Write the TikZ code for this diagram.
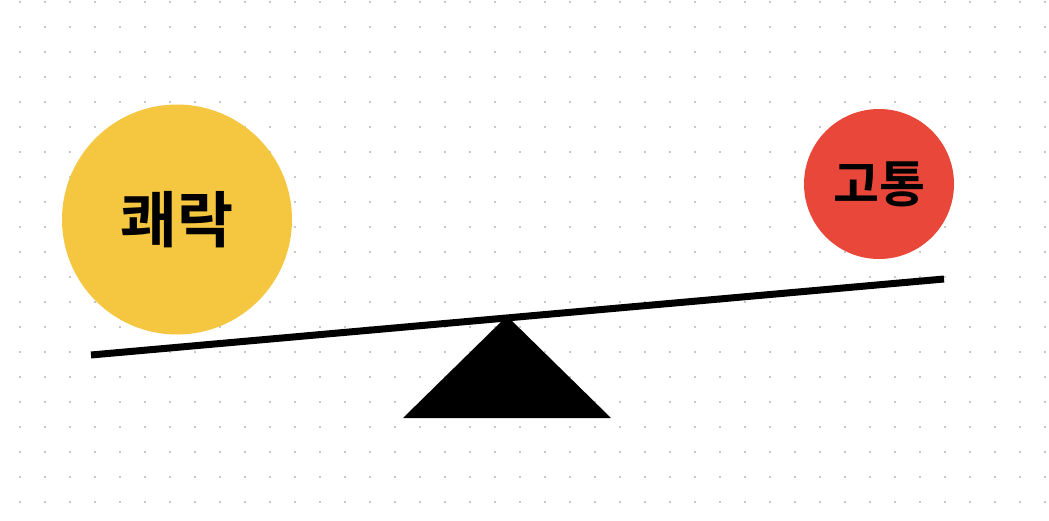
\documentclass[tikz,border=0pt]{standalone}
\usepackage{fontspec}
\newfontfamily\kr{Noto Sans CJK KR}[BoldFont={Noto Sans CJK KR Bold}]
\definecolor{pleasure}{HTML}{F5C63F}
\definecolor{pain}{HTML}{E8473A}
\definecolor{griddot}{HTML}{C8C8C8}
\tikzset{
  ball/.style={circle, inner sep=0pt, font=\kr\bfseries},
  beam/.style={line width=7pt, line cap=butt},
  fulcrum/.style={fill=black, draw=none}
}
\begin{document}
\begin{tikzpicture}[x=1pt,y=-1pt]
\useasboundingbox (0,0) rectangle (1049,520);
\fill[white] (0,0) rectangle (1049,520);
\foreach \i in {0,...,41}{
  \foreach \j in {0,...,20}{
    \fill[griddot] (20+25*\i-1,2+25*\j-1) rectangle ++(2,2);
  }
}
\node[ball, fill=pleasure, minimum size=230pt, font=\kr\bfseries\fontsize{61}{65}\selectfont] (joy) at (177,219.5) {쾌락};
\node[ball, fill=pain, minimum size=150pt, font=\kr\bfseries\fontsize{50}{54}\selectfont] (pain) at (879,184) {고통};
\coordinate (bl) at (91,355);
\coordinate (br) at (944,279);
\draw[beam] (bl) -- (br);
\coordinate (apex) at (507,316);
\coordinate (baseL) at (403,418);
\coordinate (baseR) at (611,418);
\fill[fulcrum] (apex) -- (baseL) -- (baseR) -- cycle;
\end{tikzpicture}
\end{document}
